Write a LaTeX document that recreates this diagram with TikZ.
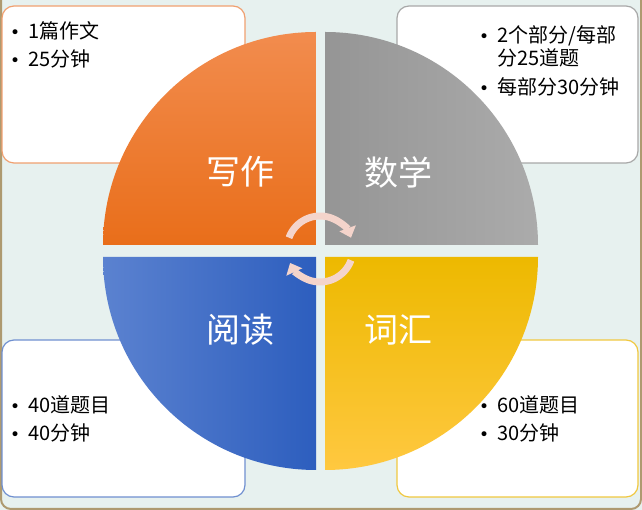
\documentclass[tikz,border=0pt]{standalone}
\usepackage{fontspec}
\setmainfont{Noto Sans CJK SC}
\newfontfamily\bulfont{DejaVu Sans}
\usetikzlibrary{arrows.meta,positioning}
\definecolor{bgc}{HTML}{E7F1EF}
\definecolor{framec}{HTML}{AE9A70}
\definecolor{orangeA}{HTML}{F28C4E}
\definecolor{orangeB}{HTML}{E96E1A}
\definecolor{orangeL}{HTML}{F0A070}
\definecolor{grayA}{HTML}{959595}
\definecolor{grayB}{HTML}{ABABAB}
\definecolor{grayL}{HTML}{A8A8A8}
\definecolor{blueA}{HTML}{5B82D0}
\definecolor{blueB}{HTML}{2D5EBE}
\definecolor{blueL}{HTML}{7090D0}
\definecolor{yellowA}{HTML}{EDB900}
\definecolor{yellowB}{HTML}{FFC840}
\definecolor{yellowL}{HTML}{F0C840}
\definecolor{arrowc}{HTML}{F4D4CB}
\newcommand\bul{\makebox[26pt][c]{\bulfont\fontsize{17}{17}\selectfont •}}

\begin{document}
\begin{tikzpicture}[x=1pt,y=1pt,
  infobox/.style={draw,line width=1.2pt,rounded corners=12pt,fill=white,minimum height=157pt,inner sep=0pt},
  pielabel/.style={text=white,font=\fontsize{34}{40}\selectfont,inner sep=0pt},
  bullets/.style={align=left,anchor=base west,inner sep=0pt,font=\fontsize{20}{23}\selectfont},
  turnarrow/.style={draw=arrowc,line width=7pt,-{Triangle[width=17pt,length=10pt]}}]
			\useasboundingbox (0,0) rectangle (642,510);
			\fill[bgc] (0,0) rectangle (642,510);
			\begin{scope}
				\clip (0,0) rectangle (642,510);
				\draw[framec,line width=2pt,rounded corners=10pt] (1,1) rectangle (641,530);
			\end{scope}
			
			% side boxes
			\node[infobox, draw=orangeL, minimum width=243pt] (WRTbox) at (123.5,425.5) {};
			\node[infobox, draw=grayL, minimum width=241pt] (MTHbox) at (517.5,425.5) {};
			\node[infobox, draw=blueL, minimum width=243pt] (RDGbox) at (123.5,91.5) {};
			\node[infobox, draw=yellowL, minimum width=241pt] (VOCbox) at (517.5,91.5) {};
			
			% quarters
			\shade[top color=orangeA, bottom color=orangeB] (316,265) -- (103,265) arc[start angle=180,end angle=90,radius=213] -- cycle;
			\shade[left color=grayA, right color=grayB] (325,265) -- (325,478) arc[start angle=90,end angle=0,radius=213] -- cycle;
			\shade[left color=blueA, right color=blueB] (316,253) -- (103,253) arc[start angle=180,end angle=270,radius=213] -- cycle;
			\shade[top color=yellowA, bottom color=yellowB] (325,253) -- (538,253) arc[start angle=0,end angle=-90,radius=213] -- cycle;
			
			\node[pielabel] (WRT) at (240,338) {写作};
			\node[pielabel] (MTH) at (398,338) {数学};
			\node[pielabel] (RDG) at (240,180) {阅读};
			\node[pielabel] (VOC) at (398,180) {词汇};
			
			% cycle arrows
			\coordinate (HUB) at (320,261);
			\draw[turnarrow] ([shift={(160:33)}]HUB) arc[start angle=160,end angle=20,radius=33];
			\draw[turnarrow] ([shift={(-20:33)}]HUB) arc[start angle=-20,end angle=-155,radius=33];
			
			% box texts (anchored at the last line)
			\node[bullets] (WRTtxt) at (2,443.5) {\bul 1篇作文\\[5pt]\bul 25分钟};
			\node[bullets] (MTHtxt) at (471,415.5) {\bul 2个部分/每部\\\hspace{26pt}分25道题\\[6pt]\bul 每部分30分钟};
			\node[bullets] (RDGtxt) at (2,69.5) {\bul 40道题目\\[5pt]\bul 40分钟};
			\node[bullets] (VOCtxt) at (471,69.5) {\bul 60道题目\\[5pt]\bul 30分钟};
		\end{tikzpicture}
\end{document}
